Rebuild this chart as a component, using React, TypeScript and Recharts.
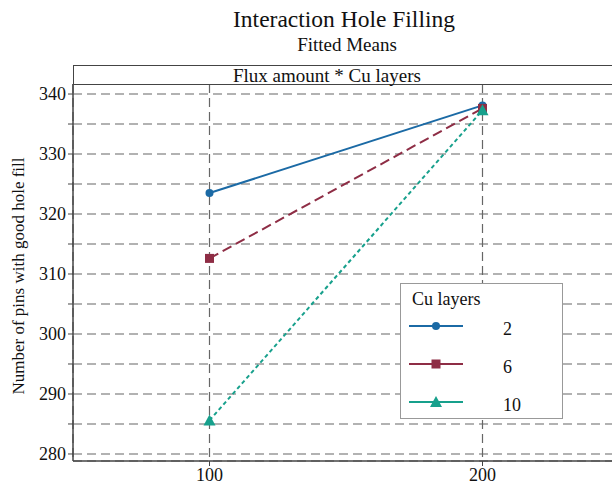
import React from 'react';
import { LineChart, Line, XAxis, YAxis, CartesianGrid } from 'recharts';

const fluxAmounts = [100, 200];
const layers2 = [323.5, 338.1];
const layers6 = [312.6, 337.6];
const layers10 = [285.6, 337.3];
const yTicks = [280, 285, 290, 295, 300, 305, 310, 315, 320, 325, 330, 335, 340];

const SERIES = [
  { key: 'l2', name: '2', color: '#1b6aa5', dash: undefined as string | undefined, shape: 'circle' },
  { key: 'l6', name: '6', color: '#8e2d45', dash: '10 5', shape: 'square' },
  { key: 'l10', name: '10', color: '#17a08c', dash: '4 3', shape: 'triangle' },
];

const data = fluxAmounts.map((x, i) => ({
  x,
  l2: layers2[i],
  l6: layers6[i],
  l10: layers10[i],
}));

const FONT = '"Liberation Serif", "DejaVu Serif", serif';

const Marker = ({ shape, color, cx, cy }: any) => {
  if (cx == null || cy == null) return null;
  if (shape === 'circle') return <circle cx={cx} cy={cy} r={4} fill={color} />;
  if (shape === 'square') return <rect x={cx - 4.5} y={cy - 4.5} width={9} height={9} fill={color} />;
  return <polygon points={`${cx},${cy - 6} ${cx - 6},${cy + 5} ${cx + 6},${cy + 5}`} fill={color} />;
};

const LegendBox = () => (
  <div
    style={{
      position: 'absolute',
      left: 400,
      top: 283,
      width: 163,
      height: 136,
      border: '1px solid #999',
      background: '#fff',
      boxSizing: 'border-box',
      fontFamily: FONT,
      color: '#111',
    }}
  >
    <div style={{ position: 'absolute', left: 11, top: 5, fontSize: 18, lineHeight: '20px' }}>Cu layers</div>
    {SERIES.map((s, i) => (
      <div key={s.key} style={{ position: 'absolute', left: 7, top: 32 + i * 38, width: 150, height: 24 }}>
        <svg width={58} height={20} style={{ position: 'absolute', left: 0, top: 0 }}>
          <line x1={1} y1={10} x2={55} y2={10} stroke={s.color} strokeWidth={2} />
          <Marker shape={s.shape} color={s.color} cx={28} cy={10} />
        </svg>
        <span style={{ position: 'absolute', left: 95, top: 3, fontSize: 18, lineHeight: '20px' }}>{s.name}</span>
      </div>
    ))}
  </div>
);

export default function App() {
  return (
    <div
      style={{
        position: 'absolute',
        left: 0,
        top: 0,
        width: 612,
        height: 490,
        overflow: 'hidden',
        background: '#fff',
        fontFamily: FONT,
      }}
    >
      <div
        style={{
          position: 'absolute',
          left: 44,
          width: 600,
          top: 8,
          textAlign: 'center',
          fontSize: 23.5,
          lineHeight: '23.5px',
          color: '#111',
          whiteSpace: 'nowrap',
        }}
      >
        Interaction Hole Filling
      </div>
      <div
        style={{
          position: 'absolute',
          left: 47,
          width: 600,
          top: 35,
          textAlign: 'center',
          fontSize: 19,
          lineHeight: '19px',
          color: '#111',
          whiteSpace: 'nowrap',
        }}
      >
        Fitted Means
      </div>
      <div style={{ position: 'absolute', left: 0, top: 0 }}>
        <LineChart width={640} height={490} data={data} margin={{ top: 84, right: 21, bottom: 0, left: 0 }}>
          <CartesianGrid stroke="#666" strokeDasharray="9 5" strokeWidth={1.2} />
          <XAxis
            dataKey="x"
            type="number"
            domain={[50, 250]}
            ticks={fluxAmounts}
            tickLine={{ stroke: '#444' }}
            tickSize={5}
            axisLine={{ stroke: '#444', strokeWidth: 1.5 }}
            tick={{ fill: '#111', fontSize: 18, fontFamily: FONT }}
            height={29}
          />
          <YAxis
            type="number"
            domain={[278.83, 341.67]}
            ticks={yTicks}
            tickFormatter={(v: number) => (v % 10 === 0 ? String(v) : '')}
            tickLine={{ stroke: '#444' }}
            tickSize={5}
            axisLine={{ stroke: '#444', strokeWidth: 1.5 }}
            tick={{ fill: '#111', fontSize: 18, fontFamily: FONT }}
            width={73}
            allowDataOverflow
          />
          {SERIES.map((s) => (
            <Line
              key={s.key}
              dataKey={s.key}
              name={s.name}
              stroke={s.color}
              strokeWidth={2}
              strokeDasharray={s.dash}
              isAnimationActive={false}
              dot={(p: any) => <Marker key={`${s.key}-${p.index}`} shape={s.shape} color={s.color} cx={p.cx} cy={p.cy} />}
              activeDot={false}
            />
          ))}
        </LineChart>
      </div>
      <div
        style={{
          position: 'absolute',
          left: 73,
          top: 65,
          width: 560,
          height: 20,
          borderTop: '1.5px solid #444',
          borderBottom: '1.5px solid #444',
          borderLeft: '1.5px solid #444',
          boxSizing: 'border-box',
          background: '#fff',
        }}
      />
      <div
        style={{
          position: 'absolute',
          left: 233,
          top: 66,
          fontSize: 19,
          lineHeight: '19px',
          color: '#111',
          whiteSpace: 'nowrap',
        }}
      >
        Flux amount * Cu layers
      </div>
      <div
        style={{
          position: 'absolute',
          left: 18.5 - 200,
          top: 276 - 10,
          width: 400,
          height: 20,
          lineHeight: '20px',
          textAlign: 'center',
          transform: 'rotate(-90deg)',
          whiteSpace: 'nowrap',
          fontSize: 17,
          color: '#111',
        }}
      >
        Number of pins with good hole fill
      </div>
      <LegendBox />
    </div>
  );
}
